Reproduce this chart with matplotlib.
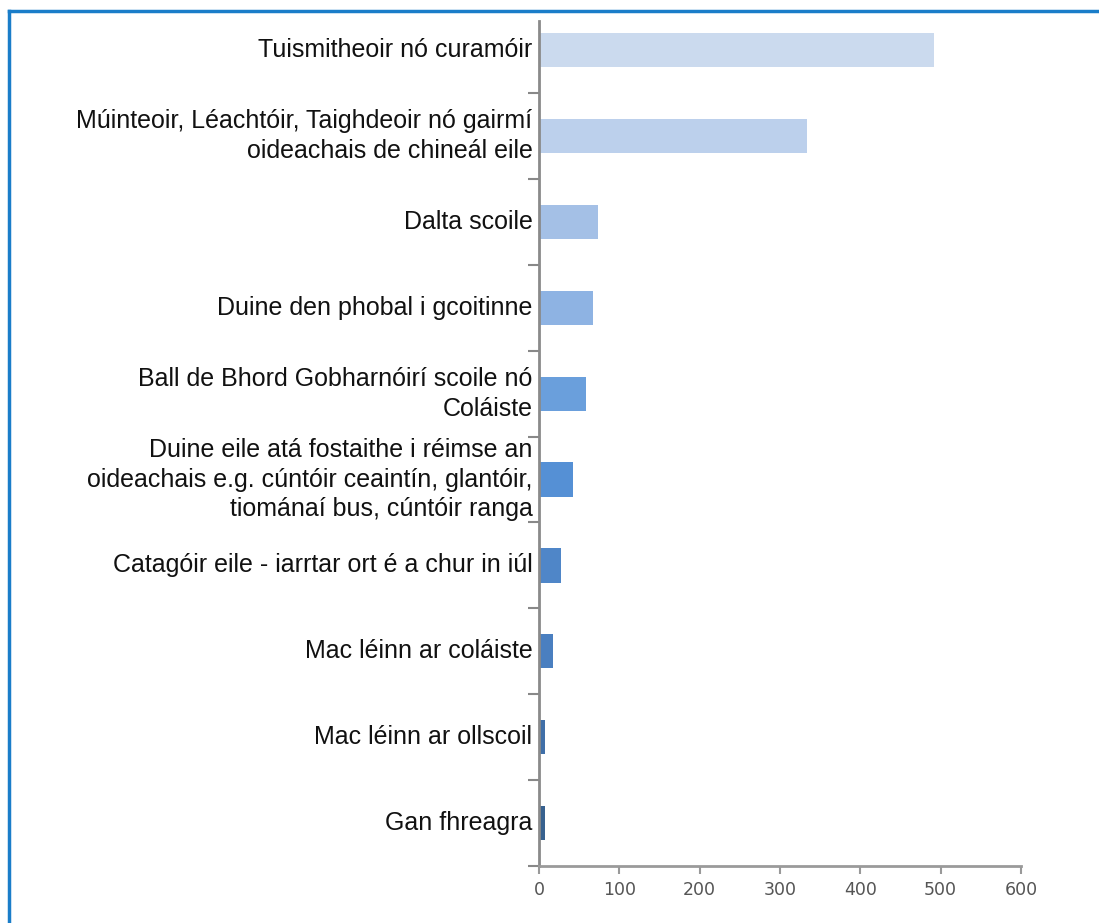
import matplotlib.pyplot as plt
from matplotlib.lines import Line2D

categories = [
    "Tuismitheoir nó curamóir",
    "Múinteoir, Léachtóir, Taighdeoir nó gairmí\noideachais de chineál eile",
    "Dalta scoile",
    "Duine den phobal i gcoitinne",
    "Ball de Bhord Gobharnóirí scoile nó\nColáiste",
    "Duine eile atá fostaithe i réimse an\noideachais e.g. cúntóir ceaintín, glantóir,\ntiománaí bus, cúntóir ranga",
    "Catagóir eile - iarrtar ort é a chur in iúl",
    "Mac léinn ar coláiste",
    "Mac léinn ar ollscoil",
    "Gan fhreagra",
]
values = [492, 334, 74, 67, 58, 43, 27, 18, 7, 7]
bar_colors = [
    "#cbdaee", "#bcd0ec", "#a4c0e6", "#8eb3e3", "#6a9fdc",
    "#5590d5", "#4f86c8", "#4a7fc0", "#406fa8", "#37618f",
]
x_ticks = [0, 100, 200, 300, 400, 500, 600]

fig = plt.figure(figsize=(10.99, 9.23), dpi=100)
ax = fig.add_axes([0.4904, 0.0618, 0.4386, 0.9154])

pos = list(range(len(categories)))
ax.barh(pos, values, height=0.4, color=bar_colors, edgecolor="none", zorder=2)

ax.set_xlim(0, 600)
ax.set_ylim(9.5, -0.34)

# category labels drawn as text, right aligned
for i, label in enumerate(categories):
    ax.text(-0.0135 * 600, i, label, ha="right", va="center",
            fontsize=18, family="Liberation Sans", color="#111111",
            linespacing=1.3)

ax.set_yticks([p + 0.5 for p in pos])
ax.set_yticklabels([])
ax.tick_params(axis="y", length=8, width=1.5, color="#888888", direction="out")

ax.set_xticks(x_ticks)
ax.set_xticklabels([str(t) for t in x_ticks])
ax.tick_params(axis="x", length=6, width=1.5, color="#999999", direction="out",
               labelsize=12.5, labelcolor="#555555", pad=5)

for side in ["top", "right"]:
    ax.spines[side].set_visible(False)
ax.spines["left"].set_color("#8a8a8a")
ax.spines["left"].set_linewidth(2)
ax.spines["bottom"].set_color("#9a9a9a")
ax.spines["bottom"].set_linewidth(2)

# blue frame (left and top edges visible)
frame_color = "#1a7dc9"
fig.add_artist(Line2D([8.5 / 1099, 8.5 / 1099], [0, 1 - 10.5 / 923],
                      color=frame_color, linewidth=2.5, transform=fig.transFigure))
fig.add_artist(Line2D([8.5 / 1099, 1], [1 - 10.5 / 923, 1 - 10.5 / 923],
                      color=frame_color, linewidth=2.5, transform=fig.transFigure))

fig.savefig("out.png", dpi=100)
